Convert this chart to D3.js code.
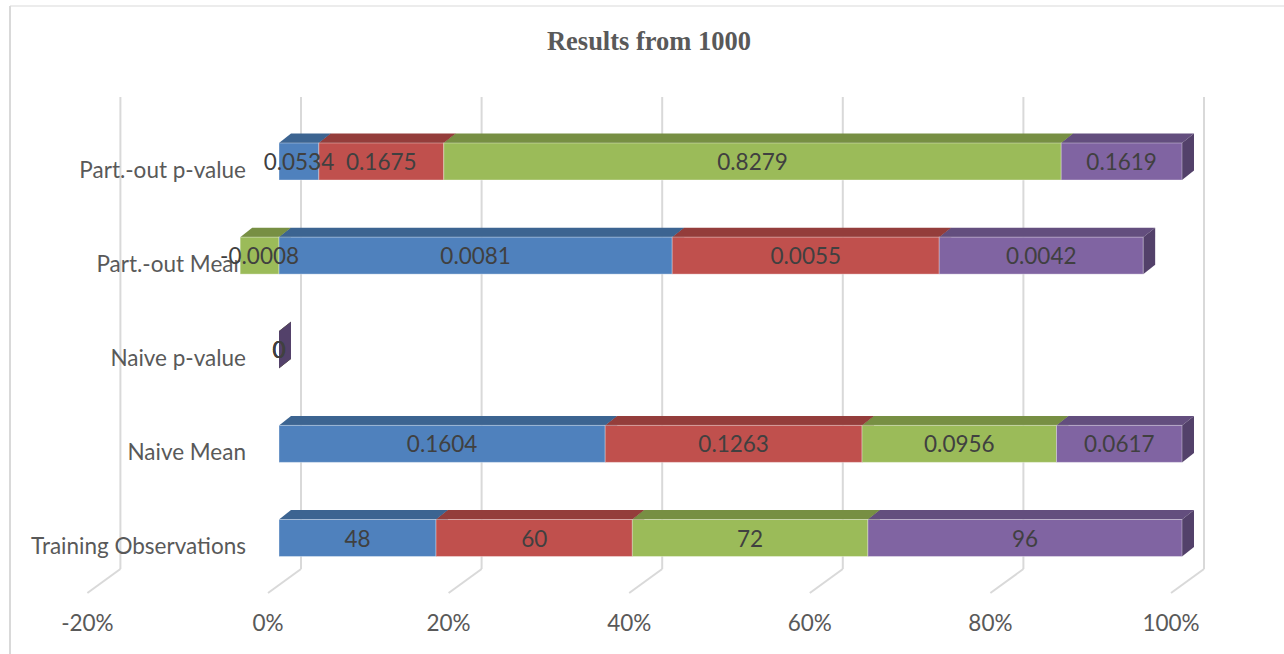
<!DOCTYPE html>
<html>
<head>
<meta charset="utf-8">
<script src="https://cdn.jsdelivr.net/npm/d3@7"></script>
<style>
  html, body { margin: 0; padding: 0; background: #fff; }
  svg { display: block; }
</style>
</head>
<body>
<svg id="chart" width="1284" height="654"></svg>
<script>
// ---- data ----
const categories = ["Training Observations", "Naive Mean", "Naive p-value", "Part.-out Mean", "Part.-out p-value"];
const seriesNames = ["Series1", "Series2", "Series3", "Series4"];
const series1 = [48, 0.1604, 0, 0.0081, 0.0534];
const series2 = [60, 0.1263, 0, 0.0055, 0.1675];
const series3 = [72, 0.0956, 0, -0.0008, 0.8279];
const series4 = [96, 0.0617, 0, 0.0042, 0.1619];
const tickValues = [-0.2, 0, 0.2, 0.4, 0.6, 0.8, 1.0];
const tickLabels = ["-20%", "0%", "20%", "40%", "60%", "80%", "100%"];
const chartTitle = "Results from 1000";

// ---- styles ----
const faceColors = {
  Series1: { front: "#4F81BD", top: "#3C6491", side: "#34577F" },
  Series2: { front: "#C0504D", top: "#943D3B", side: "#7F3432" },
  Series3: { front: "#9BBB59", top: "#778F43", side: "#667B3A" },
  Series4: { front: "#8064A2", top: "#634E7E", side: "#53416A" }
};
const font = "Lato, 'Open Sans', sans-serif";
const fs = 22.5;

const svg = d3.select("#chart");
const W = 1284, H = 654;

// 3D geometry
const barDx = 12, barDy = -9.5;
const wallDx = 22;
const floorFrontDx = -11;
const wallTop = 97, wallBottom = 569;
const barH = 37;

const x = d3.scaleLinear().domain([0, 1]).range([279, 1182]);
const y = d3.scalePoint().domain(categories).range([538, 161.5]);

// outer border
svg.append("line").attr("x1", 10).attr("y1", 6).attr("x2", W).attr("y2", 6)
  .attr("stroke", "#e6e6e6").attr("stroke-width", 1.5);
svg.append("line").attr("x1", 10).attr("y1", 6).attr("x2", 10).attr("y2", H)
  .attr("stroke", "#d9d9d9").attr("stroke-width", 2);

// title
svg.append("text").attr("x", 649).attr("y", 50).attr("text-anchor", "middle")
  .attr("font-family", "'Liberation Serif', 'Times New Roman', serif")
  .attr("font-weight", "bold").attr("font-size", 26.5).attr("fill", "#595959")
  .text(chartTitle);

// gridlines (back wall + floor)
const grid = svg.append("g");
tickValues.forEach(v => {
  const xb = x(v) + wallDx;
  grid.append("line").attr("x1", xb).attr("y1", wallTop).attr("x2", xb).attr("y2", wallBottom)
    .attr("stroke", "#d9d9d9").attr("stroke-width", 2);
  grid.append("line").attr("x1", xb).attr("y1", wallBottom)
    .attr("x2", x(v) + floorFrontDx).attr("y2", wallBottom + 24)
    .attr("stroke", "#d9d9d9").attr("stroke-width", 2);
});

// tick labels
svg.append("g").selectAll("text").data(tickValues).join("text")
  .attr("x", v => x(v) + floorFrontDx).attr("y", 631)
  .attr("text-anchor", "middle").attr("font-family", font).attr("font-size", fs)
  .attr("fill", "#595959").text((v, i) => tickLabels[i]);

// category labels
svg.append("g").selectAll("text").data(categories).join("text")
  .attr("x", 246).attr("y", d => y(d) + 16)
  .attr("text-anchor", "end").attr("font-family", font).attr("font-size", fs)
  .attr("fill", "#595959").text(d => d);

// ---- stack (100%, diverging) ----
const raw = categories.map((c, i) => ({
  cat: c, Series1: series1[i], Series2: series2[i], Series3: series3[i], Series4: series4[i]
}));
const norm = raw.map(r => {
  const tot = d3.sum(seriesNames, k => Math.abs(r[k]));
  const o = { cat: r.cat };
  seriesNames.forEach(k => o[k] = tot ? r[k] / tot : 0);
  return o;
});
const stacked = d3.stack().keys(seriesNames).offset(d3.stackOffsetDiverging)(norm);

const segs = [];
stacked.forEach(layer => {
  layer.forEach((d, i) => {
    segs.push({ key: layer.key, cat: categories[i], x0: Math.min(d[0], d[1]), x1: Math.max(d[0], d[1]),
      value: raw[i][layer.key], order: seriesNames.indexOf(layer.key) });
  });
});
segs.sort((a, b) => (a.x0 - b.x0) || (a.order - b.order));

const bars = svg.append("g");
segs.forEach(s => {
  const c = faceColors[s.key];
  const xl = x(s.x0), xr = x(s.x1);
  const yt = y(s.cat) - barH / 2, yb = y(s.cat) + barH / 2;
  const g = bars.append("g");
  g.append("path").attr("d", `M${xl},${yt}L${xl + barDx},${yt + barDy}L${xr + barDx},${yt + barDy}L${xr},${yt}Z`)
    .attr("fill", c.top);
  g.append("path").attr("d", `M${xr},${yt}L${xr + barDx},${yt + barDy}L${xr + barDx},${yb + barDy}L${xr},${yb}Z`)
    .attr("fill", c.side);
  if (xr - xl > 0) {
    g.append("rect").attr("x", xl).attr("y", yt).attr("width", xr - xl).attr("height", barH)
      .attr("fill", c.front).attr("stroke", "#ffffff").attr("stroke-opacity", 0.35).attr("stroke-width", 1);
  }
});

// data labels
svg.append("g").selectAll("text").data(segs).join("text")
  .attr("x", s => (x(s.x0) + x(s.x1)) / 2).attr("y", s => y(s.cat) + 8.5)
  .attr("text-anchor", "middle").attr("font-family", font).attr("font-size", fs)
  .attr("fill", "#404040").text(s => String(s.value));
</script>
</body>
</html>
